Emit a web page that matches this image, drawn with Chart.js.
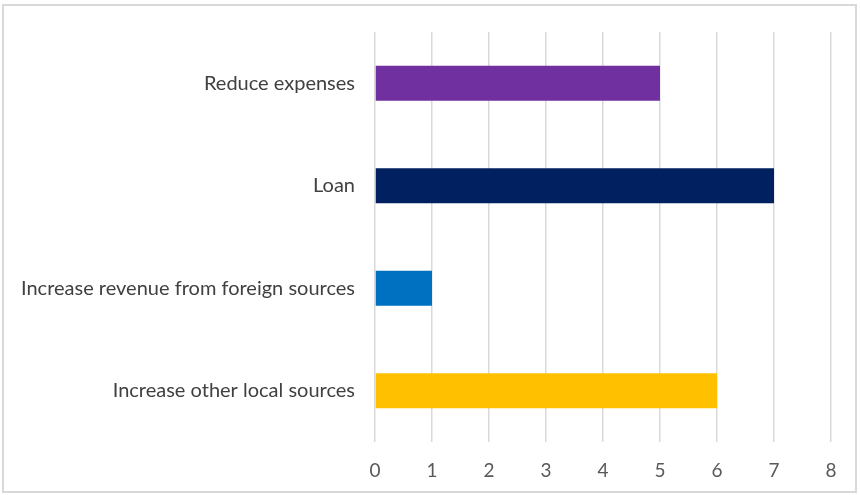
<!doctype html>
<html lang="en">
  <head>
    <meta charset="UTF-8" />
    <title>Funding options</title>
    <script src="https://cdn.jsdelivr.net/npm/chart.js"></script>
    <style>
      html, body {
        margin: 0;
        padding: 0;
        background: #ffffff;
      }
      .frame {
        position: absolute;
        left: 2px;
        top: 4px;
        width: 855px;
        height: 489px;
        border: 2px solid #d9d9d9;
        box-sizing: border-box;
        background: #ffffff;
      }
      canvas {
        display: block;
      }
    </style>
  </head>
  <body>
    <div class="frame">
      <canvas id="fundChart" width="851" height="485"></canvas>
    </div>

    <script>
      // categories, top to bottom
      const categories = [
        'Reduce expenses',
        'Loan',
        'Increase revenue from foreign sources',
        'Increase other local sources',
      ];
      const counts = [5, 7, 1, 6];
      const barColors = ['#7030a0', '#002060', '#0070c0', '#ffc000'];
      const xTicks = [0, 1, 2, 3, 4, 5, 6, 7, 8];

      const ctx = document.getElementById('fundChart').getContext('2d');

      new Chart(ctx, {
        type: 'bar',
        data: {
          labels: categories,
          datasets: [
            {
              data: counts,
              backgroundColor: barColors,
              borderWidth: 0,
              categoryPercentage: 0.34,
              barPercentage: 1,
            },
          ],
        },
        options: {
          indexAxis: 'y',
          responsive: false,
          animation: false,
          layout: {
            padding: { top: 26, right: 24, left: 0, bottom: 0 },
          },
          plugins: {
            legend: { display: false },
            tooltip: { enabled: false },
          },
          scales: {
            x: {
              min: xTicks[0],
              max: xTicks[xTicks.length - 1],
              afterBuildTicks: (axis) => {
                axis.ticks = xTicks.map((v) => ({ value: v }));
              },
              afterFit: (axis) => {
                axis.height = 49;
              },
              grid: {
                color: '#d9d9d9',
                lineWidth: 1.5,
                drawTicks: false,
              },
              border: { display: false },
              ticks: {
                color: '#595959',
                padding: 17,
                font: { family: 'Lato', size: 19 },
              },
            },
            y: {
              afterFit: (axis) => {
                // fixed label column, no extra room above/below the bands
                axis.width = 371;
                axis.paddingTop = 0;
                axis.paddingBottom = 0;
              },
              grid: { display: false, drawTicks: false },
              border: { display: false },
              ticks: {
                color: '#404040',
                padding: 20,
                font: { family: 'Lato', size: 20 },
              },
            },
          },
        },
      });
    </script>
  </body>
</html>
